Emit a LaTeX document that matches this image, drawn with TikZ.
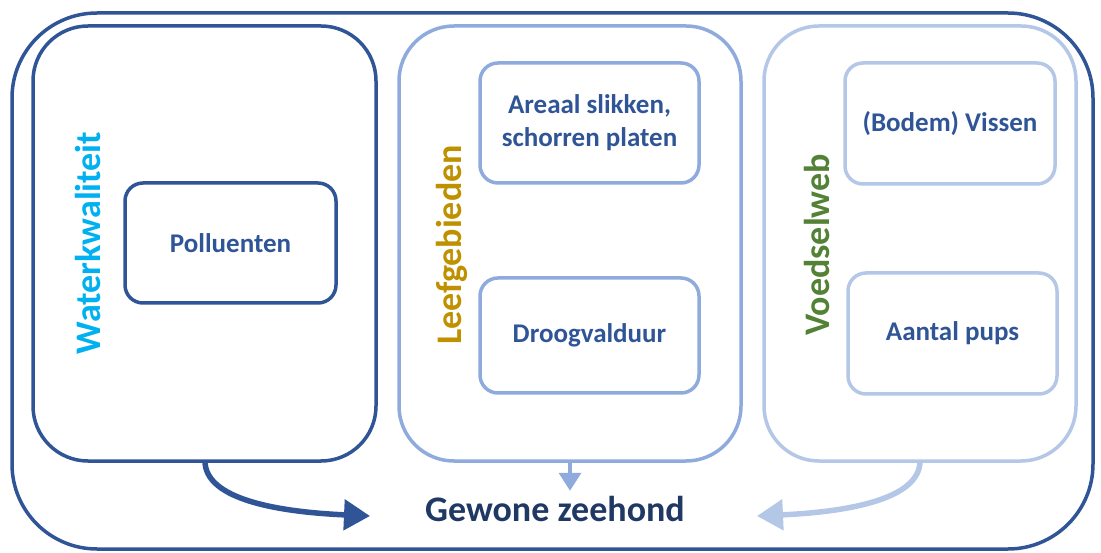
\documentclass[tikz,border=0pt]{standalone}
\usepackage{fontspec}
\setmainfont{Carlito}
\usetikzlibrary{arrows.meta}
\definecolor{dkblue}{HTML}{2F5597}
\definecolor{mdblue}{HTML}{8FAADC}
\definecolor{ltblue}{HTML}{B4C7E7}
\definecolor{navy}{HTML}{1F3864}
\definecolor{cyanlbl}{HTML}{00B0F0}
\definecolor{goldlbl}{HTML}{BF9000}
\definecolor{greenlbl}{HTML}{538135}
\tikzset{
  panel/.style={draw=#1, line width=3.5pt, rounded corners=55pt},
  itembox/.style={draw=#1, line width=3.5pt, rounded corners=18pt, fill=white,
    align=center, font=\bfseries\fontsize{27}{33}\selectfont, text=dkblue},
  sidelabel/.style={rotate=90, font=\bfseries\fontsize{36}{40}\selectfont, text=#1},
  flow/.style={line width=5.5pt, draw=#1, -{Triangle[length=26pt,width=30pt]}},
}
\begin{document}
\begin{tikzpicture}[x=1pt,y=-1pt]
\useasboundingbox (0,0) rectangle (1101,553);
% outer frame
\draw[dkblue, line width=3.5pt, rounded corners=85pt] (12,13) rectangle (1093,549);
% three panels
\node[panel=dkblue, minimum width=343pt, minimum height=435pt, inner sep=0pt] (p1) at (204.5,243.5) {};
\node[panel=mdblue, minimum width=342pt, minimum height=435pt, inner sep=0pt] (p2) at (570,243.5) {};
\node[panel=ltblue, minimum width=312pt, minimum height=435pt, inner sep=0pt] (p3) at (920,243.5) {};
% panel titles
\node[sidelabel=cyanlbl] (t1) at (88,243) {Waterkwaliteit};
\node[sidelabel=goldlbl] (t2) at (452,245) {Leefgebieden};
\node[sidelabel=greenlbl] (t3) at (817,245) {Voedselweb};
% items
\node[itembox=dkblue, minimum width=211pt, minimum height=120pt] (a1) at (230.5,243) {Polluenten};
\node[itembox=mdblue, minimum width=219pt, minimum height=120pt] (b1) at (589.5,123) {Areaal slikken,\\schorren platen};
\node[itembox=mdblue, minimum width=219pt, minimum height=115pt] (b2) at (589.5,335.5) {Droogvalduur};
\node[itembox=ltblue, minimum width=210pt, minimum height=121pt] (c1) at (950,123.5) {(Bodem) Vissen};
\node[itembox=ltblue, minimum width=209pt, minimum height=121pt] (c2) at (952.5,333.5) {Aantal pups};
% target
\node[font=\bfseries\fontsize{36}{40}\selectfont, text=navy] (z) at (555,509) {Gewone zeehond};
% connectors
\coordinate (s1) at (205,461);
\coordinate (e1) at (370,516);
\coordinate (s3) at (920,461);
\coordinate (e3) at (757,516);
\draw[flow=dkblue] (s1) .. controls (205,500) and (280,512) .. (e1);
\draw[mdblue, line width=3.5pt, -{Triangle[length=18pt,width=22pt]}] (p2.south) -- ++(0,28);
\draw[flow=ltblue] (s3) .. controls (920,500) and (845,512) .. (e3);
\end{tikzpicture}
\end{document}
